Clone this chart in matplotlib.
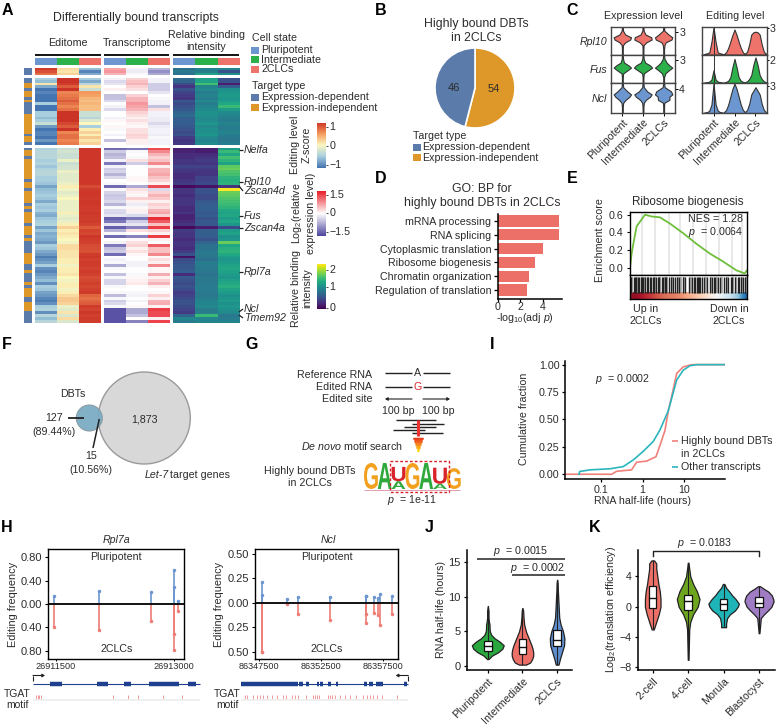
import numpy as np
import matplotlib
matplotlib.use("Agg")
from matplotlib import pyplot as plt
from matplotlib import patches
from matplotlib.colors import LinearSegmentedColormap
from matplotlib.font_manager import FontProperties
from matplotlib.textpath import TextPath
from matplotlib.transforms import Affine2D

plt.rcParams["font.family"] = ["Liberation Sans", "DejaVu Sans"]
plt.rcParams["font.size"] = 7.7
plt.rcParams["mathtext.fontset"] = "custom"
plt.rcParams["mathtext.rm"] = "Liberation Sans"
plt.rcParams["mathtext.it"] = "Liberation Sans:italic"
plt.rcParams["axes.linewidth"] = 1.0

W, H = 777, 725
TXT = "#2b2b2b"
BLUE, GREEN, RED = "#6b96d0", "#2cb14a", "#ee736a"
TBLUE, TORANGE = "#5b7bab", "#de9829"

# ---- panel A data, one list per heatmap column
states = ["Pluripotent", "Intermediate", "2CLCs"]
target_types = ["Expression-dependent", "Expression-independent"]

ed1_p = [.95, .85, .7]
ed1_i = [.15, .1, .2]
ed1_c = [-.6, -.9, -.7]
tr1_p = [.6, .7, .5]
tr1_i = [-.1, -.15, -.05]
tr1_c = [-.6, -.9, -.7]
bd1_p = [.75, .8, .75]
bd1_i = [.9, .85, 1.15]
bd1_c = [.9, .5, 1.0]

side2 = [0, 0, 1, 1, 0, 1, 1, 0, 1, 0, 0, 0, 0, 1, 1, 1, 1, 1, 1, 1, 0, 1, 1, 0]
ed2_p = [-.5, -.6, .1, -.7, -1, -.9, -1, -1, -1, -.5, -1, -1, -.5, -.5, -.6, -.5, -.3, -.8, -1, -.9, -.9, -1, -.8, -1]
ed2_i = [1, 1, .95, .8, 1, .6, .65, .7, .8, .7, .6, .7, 1, 1, 1, 1, .9, .8, 1, .6, .7, .7, .6, .65]
ed2_c = [-.5, -.7, -.4, .1, -.3, .5, .45, .35, .3, .35, .3, .3, -.3, -.3, -.4, -.2, 0, -.5, .05, .2, .05, .25, .1, .2]
tr2_p = [-.1, -.3, -.2, 0, .1, 0, -.5, -.5, -.3, 0, -.1, -.3, 0, 0, -.1, .05, 0, .05, -.05, 0, -.1, 0, -.5, 0]
tr2_i = [.3, .4, .5, .3, .2, 0, .3, .5, .5, .7, .6, .5, .3, .2, .1, .2, .1, .05, .2, .2, .3, .25, .1, .1]
tr2_c = [-.1, -.1, -.4, -.4, -.4, -.2, 0, -.05, -.1, -.1, -.5, .2, -.1, -.1, -.15, -.15, -.3, -.15, -.1, -.1, -.15, -.05, -.1, -.1]
bd2_p = [.7, .65, .45, .3, .5, .4, .35, .3, .55, .45, .5, .55, .65, .7, .6, .6, .6, .55, .5, .45, .5, .35, .3, .35]
bd2_i = [1.15, 1.15, 1.4, .9, .95, .85, .9, .85, .95, .85, .9, .95, 1.0, 1.0, .95, .95, 1.05, .95, 1.0, 1.0, 1.05, .95, .9, .95]
bd2_c = [.5, .5, .15, .6, 1.0, 1.05, 1.1, 1.05, 1.1, 1.2, 1.35, 1.1, .95, .9, .85, .85, .9, .85, .85, .9, .85, .8, .8, .85]

side3 = [0, 1, 1, 0, 1, 1, 1, 1, 1, 1, 1, 0, 1, 1, 0, 1, 1, 1, 1, 0, 1, 0, 1, 1, 1, 1, 0, 1, 1, 1,
         0, 1, 0, 0, 0, 0, 1, 1, 1, 1, 0, 0, 1, 0, 0, 0, 1, 0, 1, 1, 1, 0, 0, 1, 1, 1, 0, 0, 0, 0]
ed3_p = [-.45, -.4, -.4, -.4, -.5, -.45, -.55, -.45, -.4, -.4, -.5, -.5, -.55, -.75, -.6, -.55, -.5, -.55, -.7, -.5,
         -.55, -.5, -.65, -.7, -.55, -.5, -.45, -.75, -.55, -.7, -.65, -.7, -.8, -.5, -.55, -.7, -.8, -.95, -.85, -.75,
         -.5, -.85, -.9, -.8, -.7, -.6, -.85, -.5, -.55, -.75, -.8, -.9, -.95, -.85, -.5, -.45, -.85, -.4, -.6, -.4]
ed3_i = [-.3, -.25, -.3, -.3, -.1, -.3, -.25, -.25, -.1, -.15, -.15, -.15, -.1, .05, -.05, -.15, -.1, 0, -.1, -.1,
         -.1, -.1, .05, -.1, -.15, -.1, .05, .2, .05, .1, .05, 0, -.05, .15, .15, .1, .1, .1, .05, .05,
         -.05, .05, .05, .1, 0, -.05, .05, .05, -.05, .05, .15, .25, .25, .2, -.1, -.15, .1, -.2, .15, -.2]
ed3_c = [.98, .98, .98, .98, .97, .98, .98, .98, .98, .97, .98, .98, .97, .88, .96, .98, .97, .96, .97, .97,
         .96, .95, .97, .96, .95, .96, .92, .8, .92, .9, .97, .95, .93, .88, .86, .85, .96, .97, .93, .96,
         .95, .92, .96, .93, .88, .9, .94, .9, .93, .96, .75, .7, .75, .8, .96, .92, .97, .93, .96, .95]
tr3_p = [-1.2, -.4, -.6, -.5, -.1, -1.1, -.1, -.4, -.35, -.6, -.3, 0, -.05, -1.2, -.05, -.35, -.45, -.4, -.3, -.6,
         -.05, -.3, -.35, -.2, -1.3, -1.1, -.2, -1.3, -.6, -.05, -1.2, 0, -.1, -1.1, -.5, -.4, -1.2, 0, -.1, -.05,
         -.7, -.05, 0, -.5, -.05, -.35, -.35, -.05, 0, -.05, -.55, -.05, -.4, -.3, -.05, -1.4, -1.4, -1.4, -1.4, -1.4]
tr3_i = [-1.1, -.05, 0, -.05, .2, -.4, 0, 0, 0, 0, .05, .05, 0, -.7, .2, .1, .05, .3, .1, -.15,
         .05, .1, -.1, -.3, -1.1, -.4, -.2, -1.0, .2, 0, -1.0, .05, .2, .3, .1, .2, .05, 0, 0, -.1,
         -.1, 0, 0, -.05, .05, .1, .15, 0, 0, -.05, -.1, 0, -.1, 0, .05, -.7, -.7, -.5, 0, -1.0]
tr3_c = [1.2, .8, .5, .3, .4, .8, .1, .5, .5, .6, .4, .3, .1, 1.2, -.3, .3, .5, .35, .1, .3,
         .2, .5, .6, .3, 1.4, 1.1, .4, 1.3, .3, .1, 1.3, .1, 0, 1.1, .4, .4, .8, .05, .2, .1,
         .8, .05, .05, .55, .1, .3, .5, .1, 0, .05, .3, .1, .5, .55, .1, 1.3, 1.2, 1.2, .1, 1.25]
bd3_p = [.2, .2, .25, .25, .3, .3, .4, .35, .3, .25, .25, .3, .35, .05, .3, .3, .25, .3, .3, .3,
         .25, .25, .3, .2, .2, .25, .3, .05, .35, .3, .3, .25, .3, .3, .25, .35, .5, .1, .45, .5,
         .55, .55, .6, .25, .55, .5, .45, .5, .45, .35, .4, .45, .5, .5, .45, .4, .35, .65, .9, .85]
bd3_i = [.15, .15, .25, .3, .35, .3, .4, .35, .3, .3, .4, .4, .45, .1, .5, .5, .45, .45, .55, .6,
         .6, .6, .55, .6, .5, .55, .55, .15, .6, .6, .6, .5, .65, .75, .75, .8, .8, .8, .75, .85,
         .85, .8, .8, .75, .8, .8, .8, .85, .85, .8, .8, .85, .9, .9, .95, .85, .85, 1.35, .9, .9]
bd3_c = [1.1, 1.35, 1.2, 1.4, 1.3, 1.15, 1.5, 1.55, 1.45, 1.4, 1.3, 1.25, 1.3, .3, 2.0, 1.55, 1.5, 1.45, 1.4, 1.35,
         1.3, 1.2, 1.15, 1.2, 1.1, 1.2, 1.05, .45, 1.1, 1.15, 1.0, 1.05, 1.55, 1.2, 1.25, 1.3, 1.2, 1.1, 1.05, 1.1,
         1.15, 1.2, 1.15, 1.1, 1.05, 1.15, 1.2, 1.25, 1.15, 1.1, 1.0, 1.05, 1.1, 1.0, 1.05, 1.0, .95, .8, .85, .9]

marked_genes = ["Nelfa", "Rpl10", "Zscan4d", "Fus", "Zscan4a", "Rpl7a", "Ncl", "Tmem92"]

# ---- panel B
pie_values = [54, 46]

# ---- panel C, half widths over the row height
c_genes = ["Rpl10", "Fus", "Ncl"]
c_expr_ticks = [3, 3, 4]
c_edit_ticks = [3, 2, 3]
c_levels = [0, .2, .34, .44, .54, .62, .72, .86, 1]
c_expr = [[[.02, .02, .03, .14, .38, .42, .14, .03, .02], [.02, .02, .03, .16, .42, .4, .12, .03, .02], [.02, .02, .04, .1, .38, .42, .24, .03, .02]],
          [[.02, .02, .04, .24, .42, .3, .08, .03, .02], [.02, .02, .04, .24, .44, .34, .1, .03, .02], [.02, .02, .08, .24, .42, .28, .14, .04, .02]],
          [[.02, .02, .04, .16, .34, .42, .24, .04, .02], [.02, .02, .04, .14, .34, .42, .2, .04, .02], [.02, .02, .03, .28, .28, .42, .36, .05, .02]]]
c_offsets = [-.5, -.4, -.3, -.2, -.1, 0, .1, .2, .3, .4, .5]
c_edit = [[[0, .03, .05, .08, .45, .98, .45, .08, .05, .03, 0], [.02, .08, .24, .46, .7, .9, .7, .46, .24, .08, .02], [.03, .1, .36, .72, .8, .82, .8, .72, .36, .1, .03]],
          [[0, .02, .03, .05, .12, .45, .12, .05, .03, .02, 0], [.02, .04, .08, .2, .55, .85, .55, .2, .08, .04, .02], [.03, .06, .14, .28, .64, .9, .64, .28, .14, .06, .03]],
          [[0, .02, .03, .08, .28, .98, .28, .08, .03, .02, 0], [.03, .1, .28, .54, .8, .98, .8, .54, .28, .1, .03], [.03, .1, .3, .62, .74, .86, .74, .62, .3, .1, .03]]]

# ---- panel D
go_terms = ["mRNA processing", "RNA splicing", "Cytoplasmic translation",
            "Ribosome biogenesis", "Chromatin organization", "Regulation of translation"]
go_values = [5.5, 5.5, 4.0, 3.3, 2.75, 2.6]

# ---- panel E
es_rank = [0, .014, .034, .057, .085, .128, .185, .256, .341, .455, .568, .682, .795, .909, .98, 1]
es_score = [0, .16, .31, .47, .52, .60, .58, .57, .50, .39, .27, .16, .07, -.03, -.065, -.03]
es_grid = [.1, .21, .33, .43, .54, .65, .76, .87, .96]
es_hits = [.01, .03, .04, .05, .065, .08, .09, .105, .115, .13, .145, .155, .17, .18, .195, .205, .22, .24, .25, .27, .285,
           .3, .31, .33, .35, .37, .385, .4, .42, .45, .47, .5, .53, .545, .555, .57, .58, .59, .6, .615, .63, .66, .68, .7,
           .715, .73, .75, .77, .8, .82, .84, .86, .875, .9, .92, .935, .95, .97, .985]
es_hits_gray = [.02, .06, .1, .125, .15, .21, .26, .295, .32, .36, .41, .44, .46, .52, .65, .69, .74, .79, .83, .88, .91, .96, .995]
es_strip = [1, 1, .95, .9, .85, .8, .75, .7, .65, .62, .6, .58, .55, .5, .45, .4, .35, .3, .25, .2, .1, .05, -.05, -.1, -.2, -.25, -.35, -.45, -.7, -.9]

# ---- panel F
venn_labels = ["127", "(89.44%)", "15", "(10.56%)", "1,873"]

# ---- panel G, letter and height per logo column
logo = [[("G", 1)], [("A", 1)], [("U", .55), ("A", .3)], [("G", 1)], [("A", 1)], [("U", .62), ("A", .2)], [("G", .8)]]

# ---- panel H
rpl7a_sites = [26911475, 26912049, 26912705, 26913000, 26913000, 26913051]
rpl7a_plur = [.14, .22, .20, .58, .30, .05]
rpl7a_2clc = [.39, .44, .29, .79, .52, .12]
ncl_sites = [86347773, 86347773, 86349750, 86350636, 86353208, 86356135, 86356135, 86356802, 86357068, 86357285, 86358225]
ncl_plur = [.21, .08, .04, .06, .06, .07, .07, .06, .05, .09, .07]
ncl_2clc = [.5, .5, .01, .12, .18, .21, .12, .10, .13, .23, .11]
rpl7a_exons = [(50, 62), (97, 108), (124, 131), (149, 173), (173, 179), (188, 196)]
ncl_exons = [(241, 298), (299, 303), (306, 309), (317, 319), (320, 323), (328, 331), (336, 338), (364, 367), (369, 373), (376, 383), (404, 407)]
rpl7a_motif = [36, 38, 39, 41, 113, 128, 138, 163, 182]
ncl_motif = [245, 247, 253, 257, 260, 263, 267, 272, 277, 283, 286, 292, 295, 298, 306, 313, 315, 317, 319,
             328, 330, 332, 335, 340, 345, 350, 356, 363, 367, 370, 373, 377, 382, 397]

# ---- panel I
other_hl = [.029, .03, .053, .162, .34, .59, 1.04, 1.81, 2.63, 4.18, 6.65, 9.6, 13.9, 20.2, 98]
other_frac = [0, .025, .04, .05, .07, .13, .21, .30, .405, .58, .86, .95, .99, 1, 1]
bound_hl = [.0135, .178, .235, .54, .716, 1.25, 2.1, 2.63, 3.47, 4.18, 5.03, 6.65, 9.6, 15.3, 98]
bound_frac = [0, 0, .027, .04, .11, .12, .16, .265, .40, .58, .71, .92, .98, 1, 1]

# ---- panel J
j_y = [[1, 1.5, 2, 2.5, 3, 3.5, 4, 4.5, 5, 5.5, 6, 6.5, 7, 8, 8.7],
       [.2, .5, 1, 1.5, 2, 2.5, 3, 3.5, 4, 5, 6, 7, 8, 8.4],
       [.2, 1, 2, 3, 4, 5, 6, 7, 8, 9, 10, 11, 12, 12.5]]
j_w = [[.02, .12, .3, .42, .46, .35, .2, .1, .06, .05, .05, .03, .02, .02, 0],
       [.1, .22, .28, .31, .31, .29, .26, .22, .18, .1, .05, .03, .02, 0],
       [.04, .08, .14, .2, .21, .17, .1, .06, .05, .04, .03, .02, .015, 0]]
j_box = [[2.2, 2.9, 3.6], [1.8, 2.8, 3.9], [2.9, 3.7, 5.2]]

# ---- panel K
k_names = ["2-cell", "4-cell", "Morula", "Blastocyst"]
k_y = [[-3, -2, -1, 0, 1, 2, 3, 4, 5, 5.7, 6.1],
       [-7, -5, -3, -2, -1, 0, 1, 2, 3, 4, 5, 5.8],
       [-2.7, -2.2, -1.5, -1, -.5, 0, .4, 1, 1.5, 2, 2.5, 3],
       [-3.5, -2.5, -1.5, -1, -.5, 0, .7, 1, 1.5, 2, 2.4, 2.7]]
k_w = [[.03, .1, .17, .22, .22, .2, .16, .13, .1, .1, .04],
       [.01, .02, .03, .06, .14, .27, .32, .25, .14, .06, .03, .01],
       [.07, .07, .1, .18, .32, .4, .43, .34, .24, .16, .07, .02],
       [.01, .03, .05, .14, .25, .35, .41, .4, .36, .26, .12, .03]]
k_box = [[-.2, 1.1, 2.7], [-.4, .7, 1.6], [-.4, .3, 1.0], [-.1, .5, 1.3]]

fig = plt.figure(figsize=(W / 100, H / 100), dpi=100)


def px_ax(left, top, right, bottom):
    return fig.add_axes([left / W, 1 - bottom / H, (right - left) / W, (bottom - top) / H])


# overlay in pixel units for the labels and the drawn schematics
ov = px_ax(0, 0, W, H)
ov.set_xlim(0, W)
ov.set_ylim(H, 0)
ov.axis("off")
ov.set_zorder(10)
ov.patch.set_alpha(0)


def t(x, y, s, ha="center", va="center", **kw):
    kw.setdefault("color", TXT)
    ov.text(x, y, s, ha=ha, va=va, **kw)


def ln(x0, y0, x1, y1, color="#222222", lw=1.0, **kw):
    ov.plot([x0, x1], [y0, y1], color=color, lw=lw, solid_capstyle="butt", **kw)


def square(x, y, color):
    ov.add_patch(patches.Rectangle((x, y - 3.5), 7.5, 7, facecolor=color, edgecolor="none"))


for letter, x, y in [("A", 7, 10), ("B", 381, 10), ("C", 572, 10), ("D", 381, 178), ("E", 572, 178),
                     ("F", 7, 344), ("G", 252, 344), ("I", 492, 344), ("H", 7, 527), ("J", 429, 527), ("K", 595, 527)]:
    t(x, y, letter, fontsize=11.5, fontweight="bold", color="black")

# ---- A
cm_edit = LinearSegmentedColormap.from_list("edit", ["#4575b0", "#a9cfe0", "#fbf8c0", "#f59a5c", "#cc3327"])
cm_expr = LinearSegmentedColormap.from_list("expr", ["#4f47a0", "#ffffff", "#e8202a"])
cm_side = LinearSegmentedColormap.from_list("side", [TBLUE, TORANGE])
cm_state = LinearSegmentedColormap.from_list("state", [BLUE, GREEN, RED])
groups = [(35, 100.5, cm_edit, -1, 1, [[ed1_p, ed1_i, ed1_c], [ed2_p, ed2_i, ed2_c], [ed3_p, ed3_i, ed3_c]]),
          (103.7, 169.3, cm_expr, -1.5, 1.5, [[tr1_p, tr1_i, tr1_c], [tr2_p, tr2_i, tr2_c], [tr3_p, tr3_i, tr3_c]]),
          (172.7, 239, "viridis", 0, 2, [[bd1_p, bd1_i, bd1_c], [bd2_p, bd2_i, bd2_c], [bd3_p, bd3_i, bd3_c]])]
blocks = [(68, 75), (78, 145), (147.5, 323.5)]
for x0, x1, cmap, lo, hi, columns in groups:
    ln(x0, 54.7, x1, 54.7, color="black", lw=1.3)
    a = px_ax(x0, 57.5, x1, 65)
    a.imshow([[0, 1, 2]], cmap=cm_state, aspect="auto", interpolation="nearest")
    a.axis("off")
    for (y0, y1), cols in zip(blocks, columns):
        a = px_ax(x0, y0, x1, y1)
        a.imshow(np.column_stack(cols), cmap=cmap, vmin=lo, vmax=hi, aspect="auto", interpolation="nearest")
        a.axis("off")
for (y0, y1), side in zip(blocks, [[0], side2, side3]):
    a = px_ax(24, y0, 32, y1)
    a.imshow(np.array(side)[:, None], cmap=cm_side, vmin=0, vmax=1, aspect="auto", interpolation="nearest")
    a.axis("off")

t(136, 18, "Differentially bound transcripts", fontsize=8.8)
t(68, 43, "Editome")
t(137, 43, "Transcriptome")
t(206, 41, "Relative binding\nintensity", linespacing=1.25)
t(252, 38, "Cell state", ha="left")
for i, s in enumerate(states):
    square(251, 50 + i * 9.7, [BLUE, GREEN, RED][i])
    t(261, 50 + i * 9.7, s, ha="left")
t(252, 86, "Target type", ha="left")
for i, s in enumerate(target_types):
    square(251, 97 + i * 10.7, [TBLUE, TORANGE][i])
    t(261, 97 + i * 10.7, s, ha="left")

gene_y = [150, 182, 191, 216, 228, 272, 309, 318]
tick_from = [150, 182, 186, 216, 228, 272, 312, 315]
for s, y, yt in zip(marked_genes, gene_y, tick_from):
    ln(239, yt, 243, y if s not in ("Rpl10", "Zscan4a") else yt, color="#222222", lw=0.9)
    t(244, y, s, ha="left", style="italic")

for (y0, y1), cmap, lo, hi, ticks, labels in [
        ((122.7, 168), cm_edit, -1, 1, ["1", "0", "\u22121"], [127, 146, 165]),
        ((191, 236), cm_expr, -1.5, 1.5, ["1.5", "0", "\u22121.5"], [195, 213, 232]),
        ((264, 309), "viridis", 0, 2, ["2", "1", "0"], [270, 287, 308])]:
    a = px_ax(317, y0, 325.5, y1)
    a.imshow(np.linspace(hi, lo, 64)[:, None], cmap=cmap, vmin=lo, vmax=hi, aspect="auto")
    a.axis("off")
    for s, y in zip(ticks, labels):
        ln(325.5, y, 327.5, y, lw=0.6)
        t(329.5, y, s, ha="left")
t(301, 145, "Editing level\nZ-score", rotation=90, linespacing=1.15)
t(303, 213, "Log$_2$(relative\nexpression level)", rotation=90, linespacing=1.15)
t(302, 288, "Relative binding\nintensity", rotation=90, linespacing=1.15)

# ---- B
a = px_ax(430, 43, 520, 133)
wedges, texts = a.pie(pie_values, colors=[TORANGE, TBLUE], startangle=90, counterclock=False, radius=1.0,
                      wedgeprops=dict(edgecolor="white", linewidth=1.2))
a.set_xlim(-1.125, 1.125)
a.set_ylim(-1.125, 1.125)
t(454, 88, str(pie_values[1]), fontsize=8)
t(494, 89, str(pie_values[0]), fontsize=8)
t(476, 31, "Highly bound DBTs\nin 2CLCs", fontsize=8.8, linespacing=1.25)
t(413, 136, "Target type", ha="left")
for i, s in enumerate(target_types):
    square(413, 147 + i * 10.7, [TBLUE, TORANGE][i])
    t(422, 147 + i * 10.7, s, ha="left")

# ---- C
row_edges = [26.7, 54.6, 83, 113]
c_colors = [RED, GREEN, BLUE]
expr_tick_pos = [.82, .8, .8]
edit_tick_pos = [.96, .8, .9]
for r in range(3):
    a = px_ax(611, row_edges[r], 675, row_edges[r + 1])
    a.set_xlim(.45, 3.55)
    a.set_ylim(0, 1)
    for k in range(3):
        hw = np.array(c_expr[r][k])
        a.fill_betweenx(c_levels, k + 1 - hw, k + 1 + hw, facecolor=c_colors[r], edgecolor="#333333", lw=0.8)
    a.set_xticks([1, 2, 3] if r == 2 else [])
    a.set_xticklabels(states if r == 2 else [], rotation=45, ha="right", rotation_mode="anchor", color=TXT)
    a.yaxis.tick_right()
    a.set_yticks([expr_tick_pos[r]])
    a.set_yticklabels([str(c_expr_ticks[r])], color=TXT)
    a.tick_params(length=2, width=0.7, pad=1)
    for sp in a.spines.values():
        sp.set_color("#444444")
    t(607, (row_edges[r] + row_edges[r + 1]) / 2 + 1, c_genes[r], ha="right", style="italic")

    a = px_ax(702, row_edges[r], 767, row_edges[r + 1])
    a.set_xlim(.45, 3.55)
    a.set_ylim(0, 1)
    for k in range(3):
        a.fill_between(k + 1 + np.array(c_offsets), 0, c_edit[r][k], facecolor=c_colors[r], edgecolor="#333333", lw=0.8)
    a.axvline(1, color="#333333", lw=0.7)
    a.set_xticks([1, 2, 3] if r == 2 else [])
    a.set_xticklabels(states if r == 2 else [], rotation=45, ha="right", rotation_mode="anchor", color=TXT)
    a.yaxis.tick_right()
    a.set_yticks([edit_tick_pos[r]])
    a.set_yticklabels([str(c_edit_ticks[r])], color=TXT)
    a.tick_params(axis="y", length=1.5, width=0.7, pad=0.5)
    a.tick_params(axis="x", length=2, width=0.7, pad=1)
    for sp in a.spines.values():
        sp.set_color("#444444")
t(643, 16, "Expression level")
t(735, 16, "Editing level")

# ---- D
a = px_ax(497.7, 214, 561.7, 299)
a.barh(range(6), go_values, height=0.82, color="#ec7068")
a.set_ylim(5.65, -0.5)
a.set_xlim(0, 5.7)
a.set_xticks([0, 2, 4])
a.set_yticks(range(6))
a.set_yticklabels(go_terms, color=TXT)
a.tick_params(axis="y", length=3, width=0.9, pad=1.5)
a.tick_params(axis="x", length=2.5, width=0.9, pad=0, labelcolor=TXT)
a.spines[["top", "right"]].set_visible(False)
a.spines[["left", "bottom"]].set_linewidth(1.1)
t(482, 196, "GO: BP for\nhighly bound DBTs in 2CLCs", fontsize=8.8, linespacing=1.25)
t(525, 318, "-log$_{10}$(adj $\\it{p}$)")

# ---- E
a = px_ax(630, 211.7, 747, 275)
for g in es_grid:
    a.axvline(g, color="#e4e4e4", lw=1.2, zorder=0)
a.plot(es_rank, es_score, color="#6fbe3c", lw=1.3)
a.set_xlim(0, 1)
a.set_ylim(-.083, .634)
a.set_xticks([])
a.set_yticks([0, .2, .4, .6])
a.set_yticklabels(["0.0", "0.2", "0.4", "0.6"], color=TXT)
a.tick_params(length=2.5, width=0.8, pad=2)
a2 = px_ax(630, 275, 747, 299)
a2.set_xlim(0, 1)
a2.set_ylim(0, 1)
a2.vlines(es_hits_gray, .27, .92, color="#999999", lw=1.1)
a2.vlines(es_hits, .27, .92, color="#222222", lw=1.0)
a2.imshow([es_strip], cmap="RdBu_r", vmin=-1.15, vmax=1.15, extent=(0, 1, 0, .27), aspect="auto", interpolation="bilinear")
a2.set_xticks([])
a2.set_yticks([])
t(743, 219, "NES = 1.28", ha="right")
t(743, 232, "$\\it{p}$  = 0.0064", ha="right")
t(688, 202, "Ribosome biogenesis", fontsize=8.4)
t(600, 240, "Enrichment score", rotation=90)
t(646, 315, "Up in\n2CLCs", linespacing=1.25)
t(729, 315, "Down in\n2CLCs", linespacing=1.25)

# ---- F
ov.add_patch(patches.Circle((144.3, 418), 46, facecolor="#d8d8d8", edgecolor="#9a9a9a", lw=1))
ov.add_patch(patches.Circle((89.3, 418), 13, facecolor="#7badc4", edgecolor="#8a9aa4", lw=0.8, alpha=0.95))
ln(68, 418, 84, 418, lw=1.3)
ln(99.3, 419, 93, 448, lw=1.1)
t(73, 394, "DBTs")
t(54, 418, venn_labels[0])
t(54, 432, venn_labels[1])
t(91, 456, venn_labels[2])
t(91, 470, venn_labels[3])
t(144, 419, venn_labels[4])
t(144.5, 475, "Let-7", ha="left", style="italic")
t(170.5, 475, "target genes", ha="left")

# ---- G
t(372, 375, "Reference RNA", ha="right")
t(372, 387, "Edited RNA", ha="right")
t(372, 399, "Edited site", ha="right")
for y in (372.7, 387):
    ln(385, y, 412, y)
    ln(423, y, 450, y)
t(418, 373, "A")
t(418, 387, "G", color="#d8232a")
head = dict(arrowstyle="-|>,head_width=0.12,head_length=0.2", color="#222222", lw=0.8, shrinkA=0, shrinkB=0)
ov.annotate("", xy=(385, 399), xytext=(412, 399), arrowprops=head)
ov.annotate("", xy=(450, 399), xytext=(423, 399), arrowprops=head)
t(398, 411, "100 bp")
t(438, 411, "100 bp")
for x0, x1, y in [(396, 436, 420.3), (412, 444, 424), (404, 436, 427), (393, 425, 430), (412, 443, 433)]:
    ln(x0, y, x1, y)
ln(417.7, 420, 417.7, 436, color="#ee3030", lw=2.2)
tri = LinearSegmentedColormap.from_list("tri", ["#e8321f", "#f7941d", "#fff200"])
for y in np.arange(437.7, 453, 0.7):
    f = (y - 437.7) / 15.3
    ln(418 - 5 * (1 - f), y, 418 + 5 * (1 - f), y, color=tri(f), lw=0.9)
t(403, 446, "$\\it{De\\ novo}$ motif search", ha="right")
t(310, 477, "Highly bound DBTs\nin 2CLCs", linespacing=1.25)
t(412, 500, "$\\it{p}$  = 1e-11")
letter_color = {"G": "#f2a01e", "A": "#2fa83c", "U": "#d8232a"}
prop = FontProperties(family="Liberation Sans", weight="bold")
col_w = (460.7 - 364) / len(logo)
for i, col in enumerate(logo):
    base = 489
    for ch, frac in reversed(sorted(col, key=lambda c: -c[1])):
        h = 26 * frac
        tp = TextPath((0, 0), ch, size=1, prop=prop)
        b = tp.get_extents()
        tr = Affine2D().translate(-b.x0, -b.y0).scale(col_w / b.width, -h / b.height).translate(364 + i * col_w, base)
        ov.add_patch(patches.PathPatch(tp.transformed(tr), facecolor=letter_color[ch], edgecolor="none"))
        base -= h
ln(364, 489.5, 460, 489.5, color="#d98fa0", lw=0.6)
ov.add_patch(patches.Rectangle((390, 460.7), 59, 31.3, fill=False, edgecolor="#d8232a", lw=1.0, ls=(0, (2, 1.5))))

# ---- H
h_specs = [(48.3, 184.3, rpl7a_sites, rpl7a_plur, rpl7a_2clc, (26911402, 26913127), (-.948, .943),
            [-.8, -.4, 0, .4, .8], ["0.80", "0.40", "0.00", "0.40", "0.80"], [26911500, 26913000], "Rpl7a", 116, 13),
           (255.3, 398.3, ncl_sites, ncl_plur, ncl_2clc, (86347239, 86358739), (-.58, .552),
            [-.5, -.25, 0, .25, .5], ["0.50", "0.25", "0.00", "0.25", "0.50"], [86347500, 86352500, 86357500], "Ncl", 328, 219)]
for x0, x1, sites, plur, clc, xlim, ylim, yt, ylab, xt, name, tx, lx in h_specs:
    a = px_ax(x0, 549, x1, 659.3)
    a.vlines(sites, 0, plur, color="#6b96d0", lw=1.2)
    a.vlines(sites, 0, -np.array(clc), color="#ee7d76", lw=1.2)
    a.plot(sites, plur, "o", ms=1.5, color="#6b96d0")
    a.plot(sites, -np.array(clc), "o", ms=1.5, color="#ee7d76")
    a.axhline(0, color="#111111", lw=1.4)
    a.set_xlim(*xlim)
    a.set_ylim(*ylim)
    a.set_yticks(yt)
    a.set_yticklabels(ylab, fontsize=8, color=TXT)
    a.set_xticks(xt)
    a.set_xticklabels([str(v) for v in xt], fontsize=6.6, color=TXT)
    a.tick_params(axis="y", length=2.5, width=0.8, pad=2)
    a.tick_params(axis="x", length=1.5, width=0.7, pad=0.8)
    t((x0 + x1) / 2, 557, "Pluripotent")
    t((x0 + x1) / 2 + 0, 649, "2CLCs")
    t(tx, 540, name, style="italic")
    t(lx, 604, "Editing frequency", rotation=90, fontsize=7.8)

NAVY = "#1f3f8f"
ln(33, 684, 200, 684, color=NAVY, lw=0.8)
ln(241, 684, 408, 684, color=NAVY, lw=0.8)
for x0, x1 in rpl7a_exons + ncl_exons:
    ln(x0, 684, x1, 684, color=NAVY, lw=3.2)
ln(33, 681, 33, 675.5, lw=0.8)
ln(408.3, 681, 408.3, 675.5, lw=0.8)
ov.annotate("", xy=(45, 675.5), xytext=(33, 675.5), arrowprops=head)
ov.annotate("", xy=(395.7, 675.5), xytext=(408.3, 675.5), arrowprops=head)
for x0, x1, xs, cx in [(33, 200, rpl7a_motif, 17), (241, 408, ncl_motif, 227)]:
    ov.vlines(xs, 695, 699, color="#f08a8a", lw=0.6)
    ln(x0, 700, x1, 700, color="#eeeeee", lw=1.2)
    t(cx, 699.5, "TGAT\nmotif", linespacing=1.1, fontsize=7.5)

# ---- I
a = px_ax(565.3, 360.7, 725, 479.3)
a.plot(bound_hl, bound_frac, color="#f0807a", lw=1.2)
a.plot(other_hl, other_frac, color="#2bb5bd", lw=1.2)
a.set_xscale("log")
a.set_xlim(.0135, 98)
a.set_ylim(-.046, 1.036)
a.set_xticks([.1, 1, 10])
a.set_xticklabels(["0.1", "1", "10"], color=TXT)
a.minorticks_off()
a.set_yticks([0, .25, .5, .75, 1])
a.set_yticklabels(["0.00", "0.25", "0.50", "0.75", "1.00"], color=TXT)
a.tick_params(length=2.5, width=0.9, pad=1.5)
a.spines[["top", "right"]].set_visible(False)
a.spines[["left", "bottom"]].set_linewidth(1.1)
t(623, 379, "$\\it{p}$  = 0.0002")
t(524, 419, "Cumulative fraction", rotation=90)
t(643, 501, "RNA half-life (hours)")
ln(672, 441, 678, 441, color="#f0807a", lw=1.2)
ln(672, 467, 678, 467, color="#2bb5bd", lw=1.2)
t(680.7, 441, "Highly bound DBTs", ha="left")
t(680.7, 454, "in 2CLCs", ha="left")
t(680.7, 467, "Other transcripts", ha="left")


def violin(ax, pos, ys, hw, color, box, boxw):
    hw = np.array(hw)
    ax.fill_betweenx(ys, pos - hw, pos + hw, facecolor=color, edgecolor="#222222", lw=0.9)
    ax.vlines(pos, ys[0], ys[-1], color="#222222", lw=0.8)
    ax.add_patch(patches.Rectangle((pos - boxw / 2, box[0]), boxw, box[2] - box[0], facecolor="white", edgecolor="#111111", lw=0.9, zorder=3))
    ax.plot([pos - boxw / 2, pos + boxw / 2], [box[1], box[1]], color="#111111", lw=1.0, zorder=4)


# ---- J
a = px_ax(467, 550, 571.7, 670)
for k, col in enumerate(["#2aa83f", "#ec7068", "#5f8fd0"]):
    violin(a, k + 1, j_y[k], j_w[k], col, j_box[k], .22)
a.set_xlim(.4, 3.42)
a.set_ylim(-.58, 16.8)
a.set_xticks([1, 2, 3])
a.set_xticklabels(states, rotation=45, ha="right", rotation_mode="anchor", color=TXT)
a.set_yticks([0, 5, 10, 15])
a.set_yticklabels(["0", "5", "10", "15"], color=TXT, fontsize=8)
a.tick_params(length=2.5, width=0.9, pad=2)
a.spines[["top", "right"]].set_visible(False)
a.spines[["left", "bottom"]].set_linewidth(1.1)
ln(477.3, 559.3, 565, 559.3, lw=1.1)
ln(512, 575, 565, 575, lw=1.1)
t(521, 551, "$\\it{p}$  = 0.0015")
t(538, 568, "$\\it{p}$  = 0.0002")
t(440.7, 609, "RNA half-life (hours)", rotation=90)

# ---- K
a = px_ax(637.7, 550, 775, 670)
for k, col in enumerate(["#ec7068", "#6ea51f", "#1fb5b8", "#a07cc5"]):
    violin(a, k + 1, k_y[k], k_w[k], col, k_box[k], .21)
a.set_xlim(.576, 4.45)
a.set_ylim(-8.35, 7.48)
a.set_xticks([1, 2, 3, 4])
a.set_xticklabels(k_names, rotation=45, ha="right", rotation_mode="anchor", color=TXT)
a.set_yticks([-8, -4, 0, 4])
a.set_yticklabels(["\u22128", "\u22124", "0", "4"], color=TXT)
a.tick_params(length=2.5, width=0.9, pad=2)
a.spines[["top", "right"]].set_visible(False)
a.spines[["left", "bottom"]].set_linewidth(1.1)
ov.plot([652.7, 652.7, 759, 759], [556, 550.5, 550.5, 556], color="#222222", lw=1.0)
t(705, 543, "$\\it{p}$  = 0.0183")
t(611, 609, "Log$_2$(translation efficiency)", rotation=90)

fig.savefig("out.png", dpi=100)
